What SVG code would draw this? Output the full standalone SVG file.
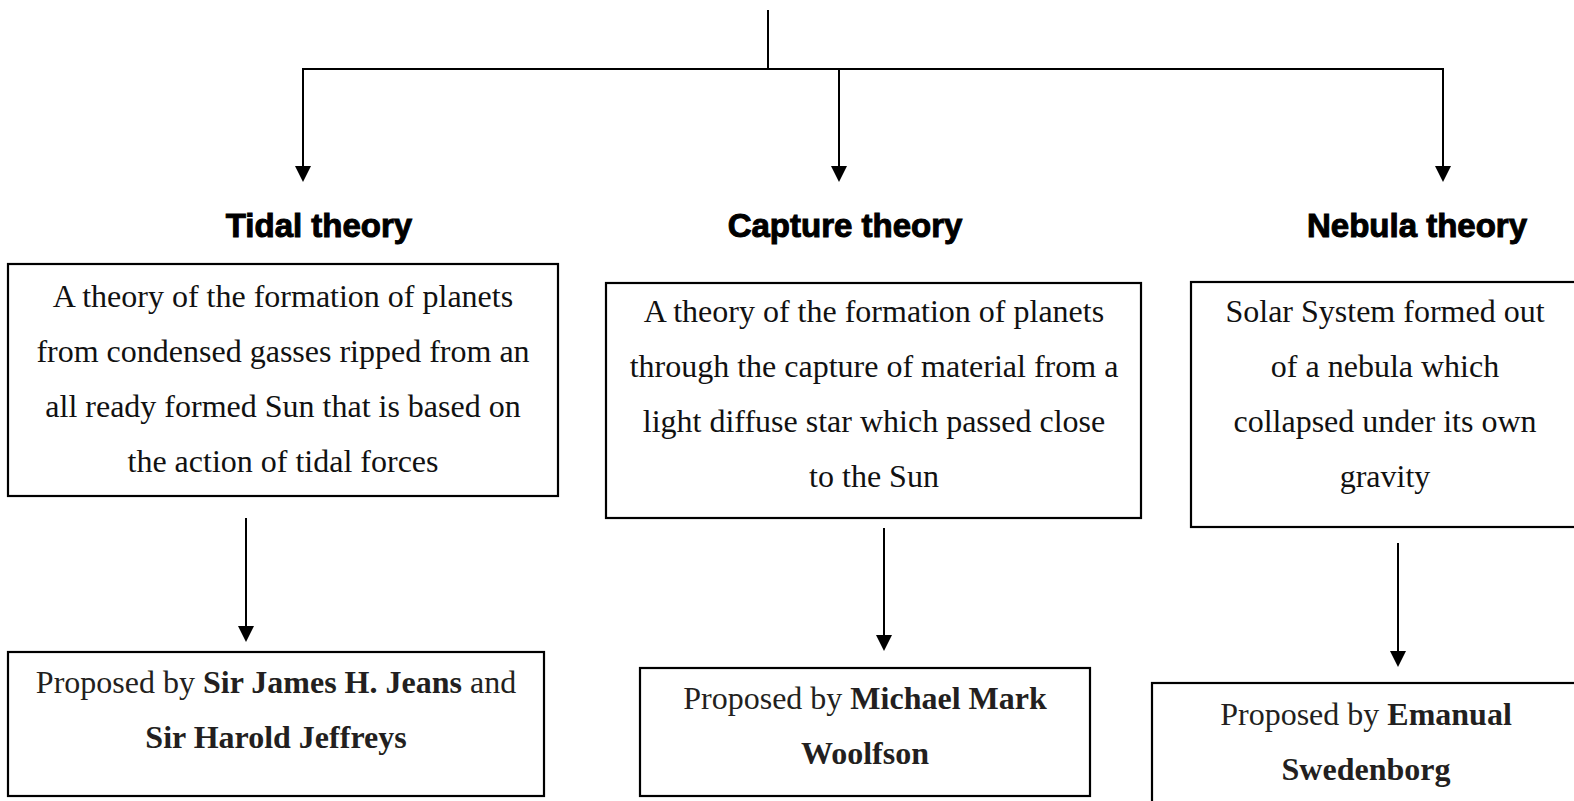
<svg xmlns="http://www.w3.org/2000/svg" width="1574" height="801" viewBox="0 0 1574 801">
<style>
.box{fill:#fff;stroke:#000;stroke-width:2.2}
.conn{fill:none;stroke:#000;stroke-width:2}
.head{font-family:"Liberation Sans",Arial,sans-serif;font-weight:bold;font-size:33px;fill:#000;stroke:#000;stroke-width:1;text-anchor:middle}
.body{font-family:"Liberation Serif","Times New Roman",serif;font-size:32px;fill:#111;text-anchor:middle}
.prop{font-family:"Liberation Serif","Times New Roman",serif;font-size:32px;fill:#231f20;text-anchor:middle}
.b{font-weight:bold}
</style>
<defs>
<marker id="ah" markerUnits="userSpaceOnUse" markerWidth="16" markerHeight="18" refX="8" refY="8" orient="auto" viewBox="0 0 16 16">
<path d="M0,0 L16,8 L0,16 Z" fill="#000"/>
</marker>
</defs>
<rect width="1574" height="801" fill="#fff"/>
<g id="connectors">
<path class="conn" d="M768 10 V69"/>
<path class="conn" d="M302 69 H1444"/>
<path class="conn" d="M303 69 V174" marker-end="url(#ah)"/>
<path class="conn" d="M839 69 V174" marker-end="url(#ah)"/>
<path class="conn" d="M1443 69 V174" marker-end="url(#ah)"/>
<path class="conn" d="M246 518 V634" marker-end="url(#ah)"/>
<path class="conn" d="M884 528 V643" marker-end="url(#ah)"/>
<path class="conn" d="M1398 543 V659" marker-end="url(#ah)"/>
</g>
<g id="heading-tidal">
<text class="head" x="319" y="237">Tidal theory</text>
</g>
<g id="heading-capture">
<text class="head" x="845" y="237">Capture theory</text>
</g>
<g id="heading-nebula">
<text class="head" x="1417" y="237">Nebula theory</text>
</g>
<g id="tidal-desc">
<rect class="box" x="8" y="264" width="550" height="232"/>
<g class="body">
<text x="283" y="307">A theory of the formation of planets</text>
<text x="283" y="362">from condensed gasses ripped from an</text>
<text x="283" y="417">all ready formed Sun that is based on</text>
<text x="283" y="472">the action of tidal forces</text>
</g>
</g>
<g id="capture-desc">
<rect class="box" x="606" y="283" width="535" height="235"/>
<g class="body">
<text x="874" y="322">A theory of the formation of planets</text>
<text x="874" y="377">through the capture of material from a</text>
<text x="874" y="432">light diffuse star which passed close</text>
<text x="874" y="487">to the Sun</text>
</g>
</g>
<g id="nebula-desc">
<rect class="box" x="1191" y="282" width="420" height="245"/>
<g class="body">
<text x="1385" y="322">Solar System formed out</text>
<text x="1385" y="377">of a nebula which</text>
<text x="1385" y="432">collapsed under its own</text>
<text x="1385" y="487">gravity</text>
</g>
</g>
<g id="tidal-prop">
<rect class="box" x="8" y="652" width="536" height="144"/>
<g class="prop">
<text x="276" y="693">Proposed by <tspan class="b">Sir James H. Jeans</tspan> and</text>
<text x="276" y="748" class="b">Sir Harold Jeffreys</text>
</g>
</g>
<g id="capture-prop">
<rect class="box" x="640" y="668" width="450" height="128"/>
<g class="prop">
<text x="865" y="709">Proposed by <tspan class="b">Michael Mark</tspan></text>
<text x="865" y="764" class="b">Woolfson</text>
</g>
</g>
<g id="nebula-prop">
<rect class="box" x="1152" y="683" width="460" height="160"/>
<g class="prop">
<text x="1366" y="725">Proposed by <tspan class="b">Emanual</tspan></text>
<text x="1366" y="780" class="b">Swedenborg</text>
</g>
</g>
</svg>
